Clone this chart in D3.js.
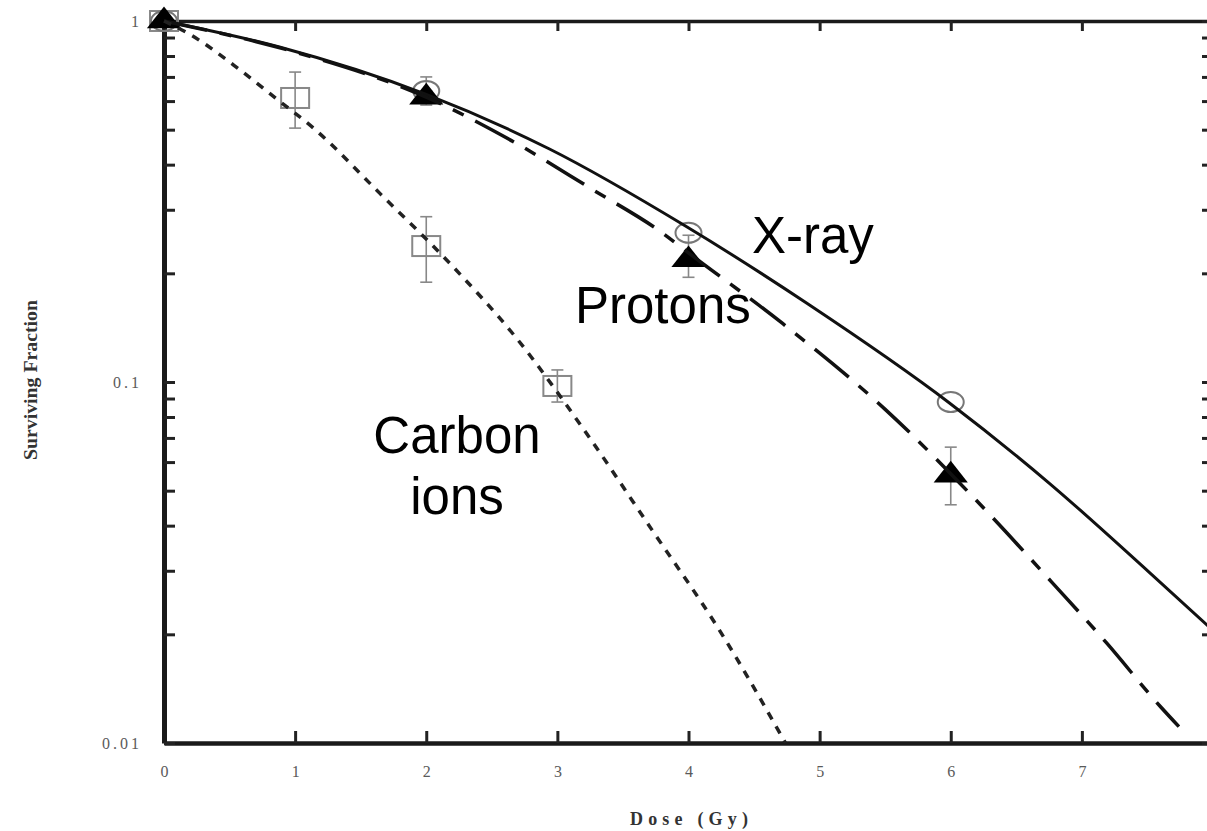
<!DOCTYPE html>
<html>
<head>
<meta charset="utf-8">
<script src="https://cdn.jsdelivr.net/npm/d3@7"></script>
<style>
body { margin: 0; background: #fff; }
svg { display: block; }
.tick text { font-family: "Liberation Serif", serif; font-size: 16px; fill: #5a5a5a; }
.lbl { font-family: "Liberation Sans", Arial, sans-serif; font-size: 51px; fill: #000; }
.ttl { font-family: "Liberation Serif", serif; font-weight: bold; fill: #333; }
</style>
</head>
<body>
<svg width="1207" height="831"></svg>
<script>
// axis ticks
var doseTicks = [0, 1, 2, 3, 4, 5, 6, 7, 8];
var sfMajor = [0.01, 0.1, 1];

// measured points (with error bars)
var xrayDose = [0, 2, 4, 6];
var xraySF   = [1, 0.64, 0.259, 0.088];
var xrayLo   = [1, 0.585, 0.259, 0.088];
var xrayHi   = [1, 0.70, 0.259, 0.088];

var protonDose = [0, 2, 4, 6];
var protonSF   = [1, 0.615, 0.218, 0.0552];
var protonLo   = [1, 0.60, 0.195, 0.0457];
var protonHi   = [1, 0.64, 0.255, 0.066];

var carbonDose = [0, 1, 2, 3];
var carbonSF   = [1, 0.612, 0.238, 0.0975];
var carbonLo   = [1, 0.505, 0.189, 0.088];
var carbonHi   = [1, 0.722, 0.287, 0.108];

// fitted curves
var xrayCurveDose = [0, 0.88, 1.99, 2.94, 3.98, 4.90, 5.99, 6.75, 7.51, 8.0];
var xrayCurveSF   = [1, 0.847, 0.628, 0.442, 0.270, 0.1655, 0.0875, 0.0525, 0.0298, 0.0205];

var protonCurveDose = [0, 1, 2, 2.67, 3.27, 3.78, 4.02, 4.72, 5.5, 6.28, 6.77, 7.19, 7.60, 7.74];
var protonCurveSF   = [1, 0.82, 0.615, 0.462, 0.341, 0.262, 0.225, 0.145, 0.084, 0.0436, 0.0279, 0.0189, 0.0126, 0.0111];

var carbonCurveDose = [0, 0.18, 0.58, 0.88, 1.14, 1.65, 2.17, 2.69, 3.20, 3.72, 4.23, 4.74];
var carbonCurveSF   = [1, 0.926, 0.732, 0.600, 0.505, 0.332, 0.215, 0.132, 0.074, 0.039, 0.0207, 0.0100];

var svg = d3.select("svg");
var plotL = 164, plotR = 1213, plotT = 21, plotB = 743;

var x = d3.scaleLinear().domain([0, 8]).range([plotL, plotR]);
var y = d3.scaleLog().domain([0.01, 1]).range([plotB, plotT]);

var yTicks = [];
[0.01, 0.1].forEach(function(dec) {
  for (var k = 1; k < 10; k++) yTicks.push(+(dec * k).toPrecision(3));
});
yTicks.push(1);

function fmtY(d) { return sfMajor.indexOf(d) >= 0 ? String(d) : ""; }

// axes
var gb = svg.append("g").attr("transform", "translate(0," + plotB + ")")
  .call(d3.axisBottom(x).tickValues(doseTicks).tickSizeInner(-12).tickSizeOuter(0).tickPadding(23));
var gt = svg.append("g").attr("transform", "translate(0," + plotT + ")")
  .call(d3.axisTop(x).tickValues(doseTicks).tickSizeInner(-10).tickSizeOuter(0).tickFormat(""));
var gl = svg.append("g").attr("transform", "translate(" + plotL + ",0)")
  .call(d3.axisLeft(y).tickValues(yTicks).tickSizeInner(-11).tickSizeOuter(0).tickPadding(25).tickFormat(fmtY));
var gr = svg.append("g").attr("transform", "translate(" + plotR + ",0)")
  .call(d3.axisRight(y).tickValues(yTicks).tickSizeInner(-11).tickSizeOuter(0).tickFormat(""));

[gb, gt, gl, gr].forEach(function(g) {
  g.selectAll(".tick line").attr("stroke", "#222").attr("stroke-width", 3);
  g.select(".domain").attr("stroke", "#1a1a1a");
});
gl.select(".domain").attr("stroke-width", 5);
gb.select(".domain").attr("stroke-width", 4.5);
gt.select(".domain").attr("stroke-width", 3.5);
gr.select(".domain").attr("stroke-width", 3.5);
gl.selectAll(".tick text").attr("letter-spacing", "3px").attr("dx", "3px");

// axis titles
svg.append("text").attr("class", "ttl")
  .attr("x", 689).attr("y", 825).attr("text-anchor", "middle")
  .attr("font-size", "18px").attr("textLength", 118).attr("lengthAdjust", "spacing")
  .text("Dose (Gy)");
svg.append("text").attr("class", "ttl")
  .attr("transform", "translate(37,380) rotate(-90)").attr("text-anchor", "middle")
  .attr("font-size", "19px").attr("textLength", 160).attr("lengthAdjust", "spacingAndGlyphs")
  .text("Surviving Fraction");

// error bars
function errorBars(dose, lo, hi) {
  var g = svg.append("g").attr("stroke", "#888").attr("stroke-width", 1.6).attr("fill", "none");
  dose.forEach(function(d, i) {
    if (lo[i] === hi[i]) return;
    g.append("line").attr("x1", x(d)).attr("x2", x(d)).attr("y1", y(lo[i])).attr("y2", y(hi[i]));
    g.append("line").attr("x1", x(d) - 6).attr("x2", x(d) + 6).attr("y1", y(lo[i])).attr("y2", y(lo[i]));
    g.append("line").attr("x1", x(d) - 6).attr("x2", x(d) + 6).attr("y1", y(hi[i])).attr("y2", y(hi[i]));
  });
}
errorBars(xrayDose, xrayLo, xrayHi);
errorBars(protonDose, protonLo, protonHi);
errorBars(carbonDose, carbonLo, carbonHi);

// markers
svg.append("g").selectAll("rect").data(carbonDose).enter().append("rect")
  .attr("x", function(d) { return x(d) - 14; })
  .attr("y", function(d, i) { return y(carbonSF[i]) - 10; })
  .attr("width", 28).attr("height", 20)
  .attr("fill", "none").attr("stroke", "#888").attr("stroke-width", 2);

svg.append("g").selectAll("ellipse").data(xrayDose).enter().append("ellipse")
  .attr("cx", function(d) { return x(d); })
  .attr("cy", function(d, i) { return y(xraySF[i]); })
  .attr("rx", 13).attr("ry", 10)
  .attr("fill", "none").attr("stroke", "#777").attr("stroke-width", 2);

var tri = d3.symbol().type(d3.symbolTriangle).size(300);
svg.append("g").selectAll("path").data(protonDose).enter().append("path")
  .attr("d", tri)
  .attr("transform", function(d, i) { return "translate(" + x(d) + "," + y(protonSF[i]) + ") scale(1.3,0.95)"; })
  .attr("fill", "#000");

// curves
var line = d3.line().x(function(d) { return x(d[0]); }).y(function(d) { return y(d[1]); })
  .curve(d3.curveMonotoneX);

svg.append("path").datum(d3.zip(xrayCurveDose, xrayCurveSF))
  .attr("d", line).attr("fill", "none").attr("stroke", "#111").attr("stroke-width", 3);
svg.append("path").datum(d3.zip(protonCurveDose, protonCurveSF))
  .attr("d", line).attr("fill", "none").attr("stroke", "#111").attr("stroke-width", 3.5)
  .attr("stroke-dasharray", "44,13,12,13");
svg.append("path").datum(d3.zip(carbonCurveDose, carbonCurveSF))
  .attr("d", line).attr("fill", "none").attr("stroke", "#222").attr("stroke-width", 3.5)
  .attr("stroke-dasharray", "8,8");

// curve labels
svg.append("text").attr("class", "lbl").attr("x", 752).attr("y", 253).text("X-ray");
svg.append("text").attr("class", "lbl").attr("x", 575).attr("y", 323).text("Protons");
svg.append("text").attr("class", "lbl").attr("x", 457).attr("y", 453).attr("text-anchor", "middle").text("Carbon");
svg.append("text").attr("class", "lbl").attr("x", 457).attr("y", 514).attr("text-anchor", "middle").text("ions");
</script>
</body>
</html>
